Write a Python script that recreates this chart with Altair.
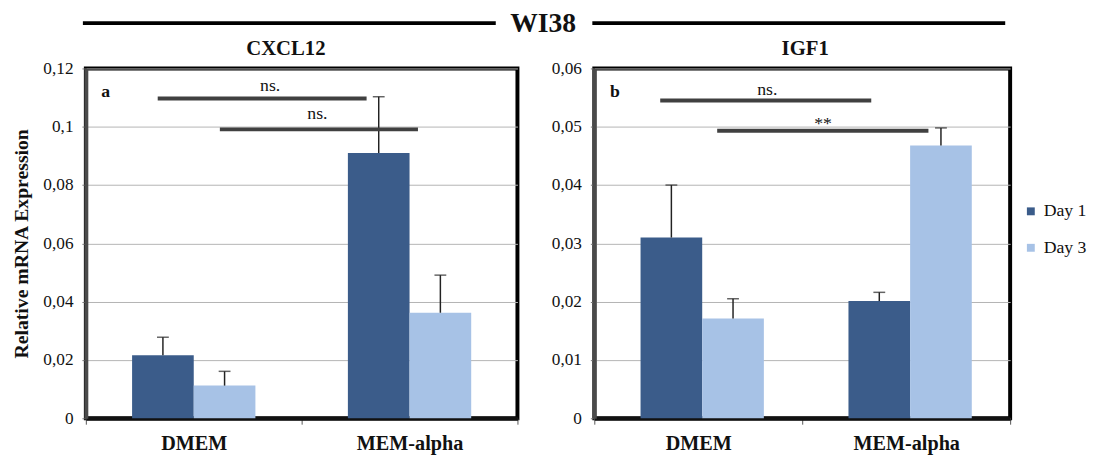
import altair as alt
import pandas as pd

FONT = "Liberation Serif"

conditions = ["DMEM", "MEM-alpha"]
days = ["Day 1", "Day 3"]
day_colors = ["#3b5c8a", "#a7c2e6"]

# values in order: DMEM Day 1, DMEM Day 3, MEM-alpha Day 1, MEM-alpha Day 3
cxcl12_mean = [0.0216, 0.0112, 0.0910, 0.0362]
cxcl12_upper = [0.0278, 0.0161, 0.1103, 0.0491]
igf1_mean = [0.0310, 0.0171, 0.0201, 0.0468]
igf1_upper = [0.0400, 0.0205, 0.0216, 0.0498]

cxcl12_ticks = [0, 0.02, 0.04, 0.06, 0.08, 0.1, 0.12]
igf1_ticks = [0, 0.01, 0.02, 0.03, 0.04, 0.05, 0.06]

# significance brackets (x in category-index units 0..2)
cxcl12_sig_start = [0.333, 0.621]
cxcl12_sig_end = [1.301, 1.539]
cxcl12_sig_y = [0.1097, 0.0991]
cxcl12_sig_label = ["ns.", "ns."]
cxcl12_sig_label_x = [0.854, 1.073]
cxcl12_sig_label_y = [0.1122, 0.1026]

igf1_sig_start = [0.317, 0.591]
igf1_sig_end = [1.332, 1.607]
igf1_sig_y = [0.0545, 0.0493]
igf1_sig_label = ["ns.", "**"]
igf1_sig_label_x = [0.832, 1.100]
igf1_sig_label_y = [0.0554, 0.0497]

LABEL_EXPR = "replace(format(datum.value, '.2~f'), '.', ',')"


def panel(name, tag, means, uppers, ymax, ticks, sig_start, sig_end, sig_y,
          sig_label, sig_label_x, sig_label_y, width, first, deco):
    df = pd.DataFrame({
        "condition": [c for c in conditions for d in days],
        "day": [d for c in conditions for d in days],
        "mean": means,
        "upper": uppers,
    })
    yscale = alt.Scale(domain=[0, ymax], nice=False, zero=True)
    xscale = alt.Scale(paddingInner=0, paddingOuter=0)
    xo = alt.XOffset("day:N", sort=days,
                     scale=alt.Scale(paddingInner=0, paddingOuter=0.75))
    ytitle = "Relative mRNA Expression" if first else ""
    yaxis = alt.Axis(
        values=ticks, labelExpr=LABEL_EXPR, grid=True, gridColor="#b4b4b4",
        gridWidth=1, domainColor="#4a4a4a", domainWidth=4, tickColor="#777",
        tickSize=4, labelPadding=9, labelFontSize=17.5, labelFont=FONT,
        labelColor="#111", title=ytitle,
        titleFont=FONT, titleFontSize=20, titleFontWeight="bold",
        titleColor="#111", titleX=-65, titleBaseline="middle",
    )
    bars = alt.Chart(df).mark_bar().encode(
        x=alt.X("condition:N", sort=conditions, scale=xscale,
                axis=alt.Axis(title=None, labelAngle=0, labelFont=FONT,
                              labelFontSize=20.5, labelFontWeight="bold",
                              labelColor="#111", labelPadding=10,
                              tickBand="extent", tickSize=6, tickColor="#555",
                              domainColor="#111", domainWidth=4, grid=False)),
        xOffset=xo,
        y=alt.Y("mean:Q", scale=yscale, axis=yaxis),
        color=alt.Color("day:N", sort=days,
                        scale=alt.Scale(domain=days, range=day_colors),
                        legend=alt.Legend(
                            title=None, orient="none", legendX=950,
                            legendY=136, symbolType="square", symbolSize=64,
                            symbolStrokeWidth=0, labelFont=FONT,
                            labelFontSize=18, labelColor="#111",
                            rowPadding=19, labelOffset=4, padding=0)),
    )
    err = alt.Chart(df).mark_rule(color="#222", strokeWidth=1.5).encode(
        x=alt.X("condition:N", sort=conditions, scale=xscale, axis=None),
        xOffset=xo,
        y=alt.Y("mean:Q", scale=yscale, axis=yaxis),
        y2="upper:Q",
    )
    caps = alt.Chart(df).mark_tick(color="#222", thickness=1.5, size=12,
                                   orient="horizontal").encode(
        x=alt.X("condition:N", sort=conditions, scale=xscale, axis=None),
        xOffset=xo,
        y=alt.Y("upper:Q", scale=yscale, axis=yaxis),
    )
    sdf = pd.DataFrame({"x0": sig_start, "x1": sig_end, "y": sig_y})
    sig = alt.Chart(sdf).mark_rule(color="#404040", strokeWidth=4).encode(
        x=alt.X("x0:Q", scale=alt.Scale(domain=[0, 2], nice=False), axis=None),
        x2="x1:Q",
        y=alt.Y("y:Q", scale=yscale, axis=yaxis),
    )
    ldf = pd.DataFrame({"lx": sig_label_x, "ly": sig_label_y, "t": sig_label})
    sigtext = alt.Chart(ldf).mark_text(font=FONT, fontSize=18, color="#111",
                                       baseline="alphabetic").encode(
        x=alt.X("lx:Q", scale=alt.Scale(domain=[0, 2], nice=False), axis=None),
        y=alt.Y("ly:Q", scale=yscale, axis=yaxis),
        text="t:N",
    )
    one = pd.DataFrame({"t": [name]})
    title = alt.Chart(one).mark_text(font=FONT, fontSize=21, fontWeight="bold",
                                     color="#111", baseline="middle").encode(
        x=alt.value(deco["title_x"]), y=alt.value(-20), text="t:N")
    tagc = alt.Chart(pd.DataFrame({"t": [tag]})).mark_text(
        font=FONT, fontSize=18, fontWeight="bold", color="#111",
        baseline="middle").encode(
        x=alt.value(deco["tag_x"]), y=alt.value(24), text="t:N")
    hline = alt.Chart(one).mark_rule(color="#000", strokeWidth=4).encode(
        x=alt.value(deco["line_x0"]), x2=alt.value(deco["line_x1"]),
        y=alt.value(-46))
    layers = [bars, err, caps, sig, sigtext, title, tagc, hline]
    if "header" in deco:
        head = alt.Chart(pd.DataFrame({"t": [deco["header"]]})).mark_text(
            font=FONT, fontSize=28, fontWeight="bold", color="#111",
            baseline="middle").encode(
            x=alt.value(deco["header_x"]), y=alt.value(-45), text="t:N")
        layers.append(head)
    return alt.layer(*layers).resolve_scale(x="independent").properties(
        width=width, height=355)


left = panel("CXCL12", "a", cxcl12_mean, cxcl12_upper, 0.12, cxcl12_ticks,
             cxcl12_sig_start, cxcl12_sig_end, cxcl12_sig_y, cxcl12_sig_label,
             cxcl12_sig_label_x, cxcl12_sig_label_y, 438, True,
             {"title_x": 203, "tag_x": 20, "line_x0": -3, "line_x1": 416,
              "header": "WI38", "header_x": 464})
right = panel("IGF1", "b", igf1_mean, igf1_upper, 0.06, igf1_ticks,
              igf1_sig_start, igf1_sig_end, igf1_sig_y, igf1_sig_label,
              igf1_sig_label_x, igf1_sig_label_y, 422, False,
              {"title_x": 214, "tag_x": 21, "line_x0": -2, "line_x1": 417})

chart = alt.hconcat(left, right, spacing=78, bounds="flush").properties(
    padding={"left": 2, "top": -3, "right": 0, "bottom": 0}
).configure_view(stroke="#000", strokeWidth=4).configure_text(font=FONT)

chart.save("out.html", embed_options={"renderer": "svg", "actions": False})
